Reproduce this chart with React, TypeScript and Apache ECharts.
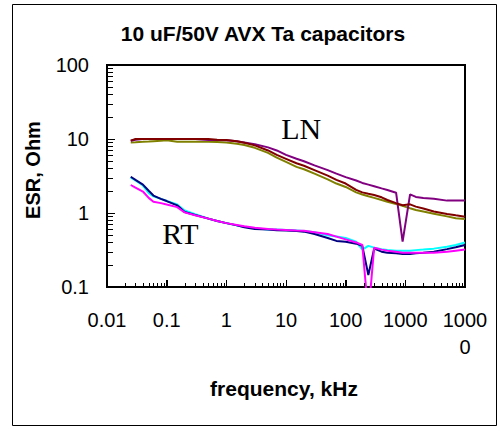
import React, { useEffect, useRef } from "react";
import * as echarts from "echarts";

// frequency, kHz
const frequencies = [
  0.025, 0.03, 0.04, 0.05, 0.06, 0.08, 0.1, 0.15, 0.2, 0.3, 0.5,
  0.7, 1, 1.5, 2, 3, 5, 7, 10, 15, 20, 30, 50, 70, 100, 150, 190, 240, 300,
  400, 500, 700, 900, 1200, 1500, 2000, 3000, 5000, 7000, 10000,
];

// ESR, Ohm  -- "LN" group
const lnPurple = [
  9.5, 9.8, 10, 10, 10, 10, 10, 10, 10, 10, 9.7,
  9.7, 9.6, 9.3, 9.0, 8.5, 7.7, 7.0, 6.1, 5.4, 5.0, 4.4, 3.8, 3.4, 3.05, 2.75, 2.55, 2.42, 2.3,
  2.15, 2.05, 1.88, 0.41, 1.79, 1.65, 1.6, 1.56, 1.47, 1.47, 1.47,
];
const lnDarkRed = [
  9.5, 10, 10, 10, 10, 10, 10, 10, 10, 10, 10,
  9.8, 9.7, 9.3, 8.9, 8.2, 7.0, 6.1, 5.4, 4.7, 4.35, 3.8, 3.2, 2.8, 2.5, 2.05, 1.9, 1.82, 1.75,
  1.63, 1.5, 1.36, 1.27, 1.31, 1.22, 1.15, 1.05, 0.97, 0.93, 0.89,
];
const lnOlive = [
  9.0, 9.05, 9.15, 9.25, 9.35, 9.5, 9.6, 9.2, 9.2, 9.2, 9.2,
  9.1, 9.0, 8.6, 8.3, 7.6, 6.5, 5.6, 4.9, 4.2, 3.9, 3.4, 2.85, 2.5, 2.25, 1.9, 1.78, 1.68, 1.6,
  1.5, 1.42, 1.32, 1.25, 1.16, 1.1, 1.05, 0.98, 0.9, 0.85, 0.83,
];

// ESR, Ohm  -- "RT" group
const rtNavy = [
  3.09, 2.8, 2.42, 2.0, 1.72, 1.55, 1.45, 1.27, 1.03, 0.94, 0.84,
  0.78, 0.73, 0.68, 0.64, 0.61, 0.6, 0.585, 0.58, 0.57, 0.56, 0.52, 0.46, 0.42, 0.41, 0.385, 0.36, 0.145, 0.33,
  0.3, 0.29, 0.285, 0.28, 0.28, 0.285, 0.29, 0.3, 0.325, 0.345, 0.37,
];
const rtCyan = [
  3.0, 2.75, 2.35, 1.85, 1.68, 1.55, 1.45, 1.3, 1.08, 0.96, 0.84,
  0.78, 0.73, 0.68, 0.65, 0.62, 0.6, 0.6, 0.59, 0.58, 0.57, 0.55, 0.5, 0.48, 0.46, 0.41, 0.32, 0.36, 0.34,
  0.325, 0.316, 0.31, 0.31, 0.31, 0.315, 0.32, 0.33, 0.35, 0.37, 0.4,
];
const rtMagenta = [
  2.39, 2.2, 1.95, 1.6, 1.42, 1.36, 1.3, 1.2, 1.02, 0.93, 0.84,
  0.78, 0.73, 0.69, 0.66, 0.63, 0.61, 0.6, 0.59, 0.58, 0.575, 0.55, 0.52, 0.48, 0.44, 0.4, 0.37, 0.042, 0.34,
  0.32, 0.31, 0.3, 0.29, 0.29, 0.29, 0.29, 0.29, 0.3, 0.31, 0.32,
];

const xTickLabels = ["0.01", "0.1", "1", "10", "100", "1000", "1000\n0"];
const yTickLabels = ["0.1", "1", "10", "100"];
const xDecades = [0.01, 0.1, 1, 10, 100, 1000, 10000];
const yDecades = [0.1, 1, 10, 100];
const minorSteps = [2, 3, 4, 5, 6, 7, 8, 9];

// annotation texts and the data points they sit at: [kHz, Ohm]
const annotations = [
  { text: "LN", at: [18, 14] },
  { text: "RT", at: [0.17, 0.53] },
];

const titleText = "10 uF/50V AVX Ta capacitors";
const xName = "frequency, kHz";
const yName = "ESR, Ohm";

const SANS = "'Liberation Sans', Arial, Helvetica, sans-serif";
const SERIF = "'Liberation Serif', 'Times New Roman', serif";

const X_MIN = 0.01;
const X_MAX = 10000;
const Y_MIN = 0.1;
const Y_MAX = 100;

const pair = (vals: number[]) => frequencies.map((f, i) => [f, vals[i]]);
const crisp = (v: number) => Math.round(v) + 0.5;

const staticGraphics: any[] = [
  {
    type: "rect",
    silent: true,
    z: -10,
    shape: { x: 12.5, y: 4.5, width: 484, height: 421 },
    style: { fill: "none", stroke: "#000", lineWidth: 1 },
  },
  {
    type: "text",
    silent: true,
    x: 263,
    y: 33,
    style: {
      text: titleText,
      fontFamily: SANS,
      fontSize: 21,
      fontWeight: "bold",
      fill: "#000",
      align: "center",
      verticalAlign: "middle",
    },
  },
  {
    type: "text",
    silent: true,
    x: 284,
    y: 388,
    style: {
      text: xName,
      fontFamily: SANS,
      fontSize: 21,
      fontWeight: "bold",
      fill: "#000",
      align: "center",
      verticalAlign: "middle",
    },
  },
  {
    type: "text",
    silent: true,
    x: 33,
    y: 170,
    rotation: Math.PI / 2,
    style: {
      text: yName,
      fontFamily: SANS,
      fontSize: 20,
      fontWeight: "bold",
      fill: "#000",
      align: "center",
      verticalAlign: "middle",
    },
  },
];

export default function App() {
  const ref = useRef<HTMLDivElement>(null);

  useEffect(() => {
    if (!ref.current) return;
    const chart = echarts.init(ref.current, null, { renderer: "svg" });

    const lineSeries = (name: string, vals: number[], color: string) => ({
      name,
      type: "line",
      data: pair(vals),
      showSymbol: false,
      symbol: "none",
      clip: true,
      lineStyle: { color, width: 2 },
      itemStyle: { color },
      z: 3,
    });

    try {
      chart.setOption({
        animation: false,
        backgroundColor: "#ffffff",
        grid: {
          left: 107,
          right: 38,
          top: 65,
          bottom: 142,
          show: true,
          borderColor: "#000",
          borderWidth: 2,
          containLabel: false,
        },
        xAxis: {
          type: "log",
          logBase: 10,
          min: X_MIN,
          max: X_MAX,
          axisLine: { show: true, onZero: false, lineStyle: { color: "#000", width: 2 } },
          axisTick: { show: true, inside: true, length: 7, lineStyle: { color: "#000", width: 1 } },
          splitLine: { show: false },
          axisLabel: {
            formatter: (_v: number, i: number) => xTickLabels[i] ?? "",
            fontFamily: SANS,
            fontSize: 20,
            lineHeight: 27,
            color: "#000",
            margin: 19,
          },
        },
        yAxis: {
          type: "log",
          logBase: 10,
          min: Y_MIN,
          max: Y_MAX,
          axisLine: { show: true, onZero: false, lineStyle: { color: "#000", width: 2 } },
          axisTick: { show: true, inside: true, length: 8, lineStyle: { color: "#000", width: 1 } },
          splitLine: { show: false },
          axisLabel: {
            formatter: (_v: number, i: number) => yTickLabels[i] ?? "",
            fontFamily: SANS,
            fontSize: 20,
            color: "#000",
            margin: 18,
          },
        },
        graphic: staticGraphics,
        series: [
          lineSeries("LN 3", lnOlive, "#808000"),
          lineSeries("LN 1", lnPurple, "#800080"),
          lineSeries("LN 2", lnDarkRed, "#800000"),
          lineSeries("RT 2", rtCyan, "#00FFFF"),
          lineSeries("RT 1", rtNavy, "#000080"),
          lineSeries("RT 3", rtMagenta, "#FF00FF"),
        ],
      });
    } catch (e) {
      // keep going so that the decorations below are still attempted
    }

    try {
      const toPx = (v: number[]) => chart.convertToPixel({ gridIndex: 0 }, v) as number[];
      const extra: any[] = [];
      const tickLine = (x1: number, y1: number, x2: number, y2: number) => ({
        type: "line",
        silent: true,
        z: 50,
        shape: { x1, y1, x2, y2 },
        style: { stroke: "#000000", lineWidth: 1, opacity: 1 },
      });
      // x axis: major + minor ticks pointing up into the plot
      xDecades.forEach((d, di) => {
        if (di > 0 && di < xDecades.length - 1) {
          const p = toPx([d, Y_MIN]);
          if (p && isFinite(p[0])) {
            const x = crisp(p[0]);
            extra.push(tickLine(x, p[1] - 1, x, p[1] - 7));
          }
        }
        if (di < xDecades.length - 1) {
          minorSteps.forEach((m) => {
            const p = toPx([d * m, Y_MIN]);
            if (!p || !isFinite(p[0])) return;
            const x = crisp(p[0]);
            extra.push(tickLine(x, p[1] - 1, x, p[1] - 4));
          });
        }
      });
      // y axis: major + minor ticks pointing right into the plot
      yDecades.forEach((d, di) => {
        if (di > 0 && di < yDecades.length - 1) {
          const p = toPx([X_MIN, d]);
          if (p && isFinite(p[1])) {
            const y = crisp(p[1]);
            extra.push(tickLine(p[0] + 1, y, p[0] + 8, y));
          }
        }
        if (di < yDecades.length - 1) {
          minorSteps.forEach((m) => {
            const p = toPx([X_MIN, d * m]);
            if (!p || !isFinite(p[1])) return;
            const y = crisp(p[1]);
            extra.push(tickLine(p[0] + 1, y, p[0] + 6, y));
          });
        }
      });
      annotations.forEach((a) => {
        const p = toPx(a.at);
        if (!p || !isFinite(p[0])) return;
        extra.push({
          type: "text",
          silent: true,
          z: 40,
          x: p[0],
          y: p[1],
          style: {
            text: a.text,
            fontFamily: SERIF,
            fontSize: 30,
            fill: "#000",
            align: "center",
            verticalAlign: "middle",
          },
        });
      });
      chart.setOption({ graphic: [...staticGraphics, ...extra] });
    } catch (e) {
      // ignore
    }

    return () => chart.dispose();
  }, []);

  return <div ref={ref} style={{ position: "absolute", left: 0, top: 0, width: 503, height: 429 }} />;
}
